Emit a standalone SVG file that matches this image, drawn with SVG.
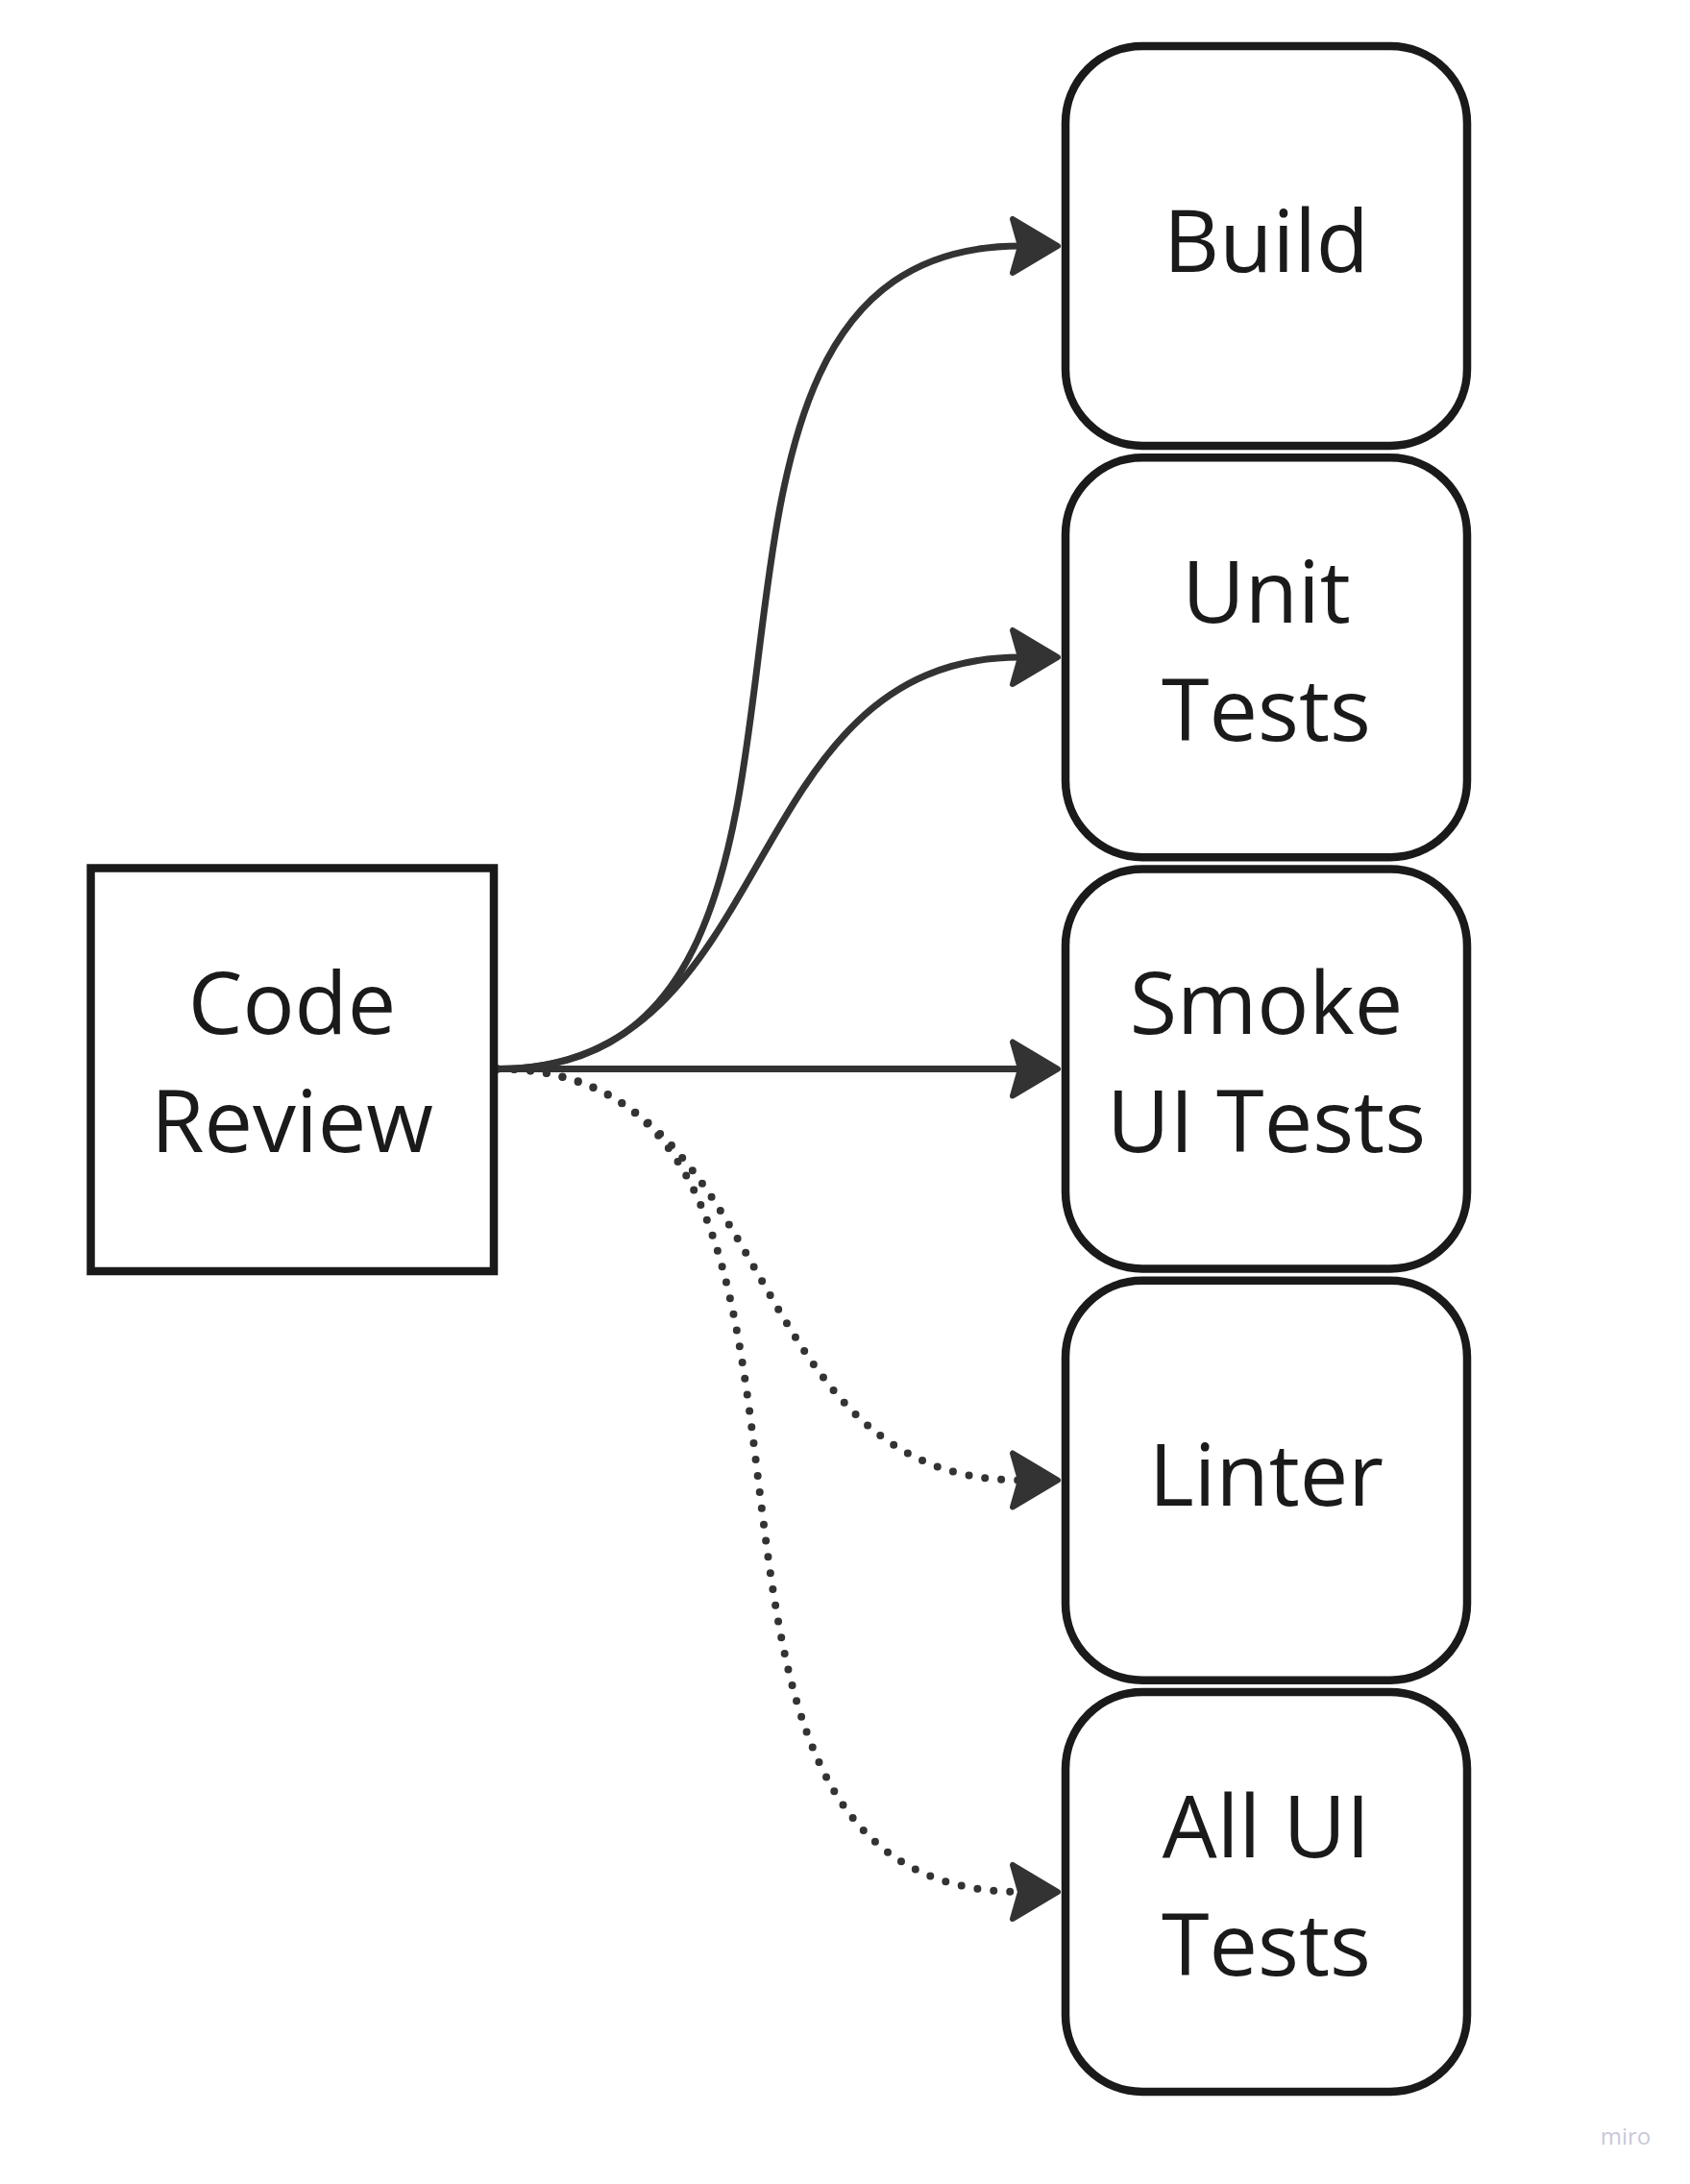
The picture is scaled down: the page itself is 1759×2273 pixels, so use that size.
<svg xmlns="http://www.w3.org/2000/svg" width="1759" height="2273" viewBox="0 0 1759 2273">
<style>
.box{fill:#ffffff;stroke:#1a1a1a;stroke-width:8.5}
.lbl{font-family:"Open Sans","Noto Sans",sans-serif;font-size:90px;fill:#1a1a1a;text-anchor:middle}
.edge{fill:none;stroke:#333333;stroke-width:7;stroke-linecap:round}
.dot{fill:none;stroke:#333333;stroke-width:8;stroke-linecap:round;stroke-dasharray:0 17}
</style>
<defs>
<marker id="arr" markerUnits="userSpaceOnUse" viewBox="-15 -40 65 80" refX="0" refY="0" markerWidth="65" markerHeight="80" orient="auto">
<path d="M39,0 L-8,-28 L0,0 L-8,28 Z" fill="#333333" stroke="#333333" stroke-width="6" stroke-linejoin="round"/>
</marker>
</defs>
<rect width="1759" height="2273" fill="#ffffff"/>
<g id="connectors">
<path class="edge" d="M518,1112.5 C956,1112.5 622,256 1062,256" marker-end="url(#arr)"/>
<path class="edge" d="M518,1112.5 C816,1112.5 762,684 1062,684" marker-end="url(#arr)"/>
<path class="edge" d="M518,1112.5 L1062,1112.5" marker-end="url(#arr)"/>
<path class="dot" d="M518,1112.5 C816,1112.5 762,1540.5 1062,1540.5" marker-end="url(#arr)"/>
<path class="dot" d="M518,1112.5 C956,1112.5 622,1969 1062,1969" marker-end="url(#arr)"/>
</g>
<g id="code-review">
<rect class="box" x="94.5" y="903.5" width="419.5" height="419.5"/>
<text class="lbl" x="304" y="1076">Code</text>
<text class="lbl" x="304" y="1199">Review</text>
</g>
<g id="build">
<rect class="box" x="1109" y="48" width="418" height="416" rx="80" ry="80"/>
<text class="lbl" x="1318" y="283">Build</text>
</g>
<g id="unit-tests">
<rect class="box" x="1109" y="476.25" width="418" height="416" rx="80" ry="80"/>
<text class="lbl" x="1318" y="648">Unit</text>
<text class="lbl" x="1318" y="771">Tests</text>
</g>
<g id="smoke-ui-tests">
<rect class="box" x="1109" y="904.5" width="418" height="416" rx="80" ry="80"/>
<text class="lbl" x="1318" y="1076">Smoke</text>
<text class="lbl" x="1318" y="1199">UI Tests</text>
</g>
<g id="linter">
<rect class="box" x="1109" y="1332.75" width="418" height="416" rx="80" ry="80"/>
<text class="lbl" x="1318" y="1567">Linter</text>
</g>
<g id="all-ui-tests">
<rect class="box" x="1109" y="1761" width="418" height="416" rx="80" ry="80"/>
<text class="lbl" x="1318" y="1933">All UI</text>
<text class="lbl" x="1318" y="2056">Tests</text>
</g>
<text x="1692" y="2232" font-family="'Open Sans','Noto Sans',sans-serif" font-size="24" fill="#c8c9d9" text-anchor="middle">miro</text>
</svg>
